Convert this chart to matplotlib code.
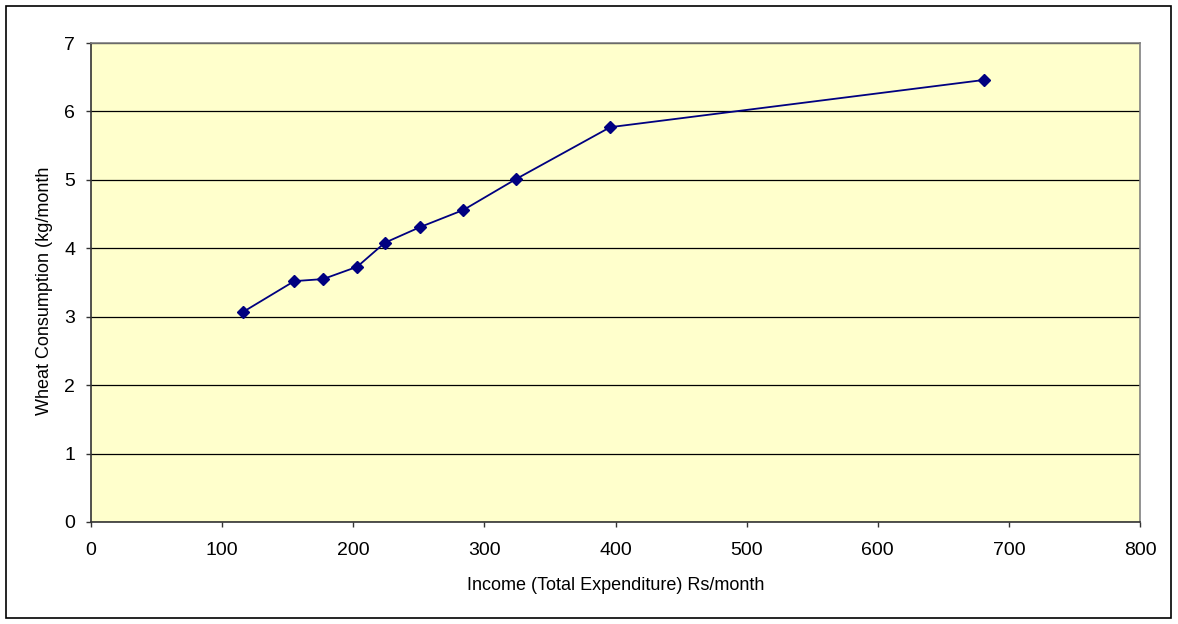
import numpy as np
import matplotlib.pyplot as plt
from matplotlib.patches import Rectangle

plt.rcParams["font.family"] = ["Liberation Sans", "DejaVu Sans"]

# income (total expenditure, Rs/month) vs wheat consumption (kg/month)
income = [116, 155, 177, 203, 224, 251, 284, 324, 396, 681]
wheat = [3.07, 3.52, 3.55, 3.73, 4.08, 4.31, 4.56, 5.01, 5.77, 6.46]

W, H = 1178, 624
fig = plt.figure(figsize=(W / 100, H / 100), dpi=100)
ax = fig.add_axes([91 / W, 1 - 522 / H, (1140 - 91) / W, (522 - 43) / H])

ax.set_facecolor("#ffffcc")
ax.plot(income, wheat, color="#000080", lw=1.3, marker="D", ms=6.5,
        markerfacecolor="#000080", markeredgecolor="#000080", zorder=5)

ax.set_xlim(0, 800)
ax.set_ylim(0, 7)
ax.set_xticks(np.arange(0, 801, 100))
ax.set_yticks(np.arange(0, 8, 1))
ax.yaxis.grid(True, color="black", lw=0.9)
ax.set_axisbelow(True)

for side in ["top", "right"]:
    ax.spines[side].set_color("#808080")
    ax.spines[side].set_linewidth(1.2)
for side in ["left", "bottom"]:
    ax.spines[side].set_color("#333333")
    ax.spines[side].set_linewidth(1.2)

ax.tick_params(direction="out", length=3.5, width=1, color="#333333",
               labelsize=14)
ax.tick_params(axis="x", pad=11)
ax.tick_params(axis="y", pad=8)
ax.set_xlabel("Income (Total Expenditure) Rs/month", fontsize=13, va="center")
ax.set_ylabel("Wheat Consumption (kg/month", fontsize=13, va="center")
ax.xaxis.set_label_coords(0.5, -0.1336)
ax.yaxis.set_label_coords(-0.0448, 0.483)

# outer chart border
fig.patches.append(Rectangle((6 / W, 1 - 618 / H), (1171 - 6) / W, (618 - 6) / H,
                             transform=fig.transFigure, fill=False,
                             edgecolor="black", lw=1.2))

fig.savefig("out.png", dpi=100)
plt.close()
